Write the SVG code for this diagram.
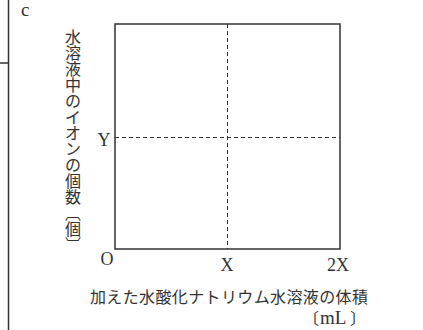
<svg xmlns="http://www.w3.org/2000/svg" width="423" height="330" viewBox="0 0 423 330">
<style>
.ln{stroke:#333;stroke-width:1.5;fill:none}
.ds{stroke:#333;stroke-width:1;stroke-dasharray:4,3;fill:none}
.lat{font-family:"Liberation Serif",serif;font-size:18px;fill:#333}
.jp{font-family:"Noto Sans CJK JP",sans-serif;font-size:16px;fill:#333}
.v{font-family:"Noto Sans CJK JP",sans-serif;font-size:16px;fill:#333;text-anchor:middle}
</style>
<g id="frame">
<line class="ln" x1="8.5" y1="0" x2="8.5" y2="330"/>
<line class="ln" x1="0" y1="63" x2="8.5" y2="63"/>
<text class="lat" x="21" y="16" style="font-size:19px">c</text>
</g>
<g id="plot">
<rect class="ln" x="115" y="24" width="225" height="225"/>
</g>
<g id="connectors">
<line class="ds" x1="227.5" y1="24" x2="227.5" y2="249"/>
<line class="ds" x1="115" y1="137.5" x2="340" y2="137.5"/>
</g>
<g id="labels">
<text class="lat" x="104" y="146" text-anchor="middle">Y</text>
<text class="lat" x="107" y="265" text-anchor="middle">O</text>
<text class="lat" x="227" y="271" text-anchor="middle">X</text>
<text class="lat" x="338" y="271" text-anchor="middle">2X</text>
<text class="v" id="ylabel"><tspan x="73" y="43">水</tspan><tspan x="73" y="59">溶</tspan><tspan x="73" y="75">液</tspan><tspan x="73" y="91">中</tspan><tspan x="73" y="107">の</tspan><tspan x="73" y="123">イ</tspan><tspan x="73" y="139">オ</tspan><tspan x="73" y="155">ン</tspan><tspan x="73" y="171">の</tspan><tspan x="73" y="187">個</tspan><tspan x="73" y="203">数</tspan><tspan x="73" y="219">︹</tspan><tspan x="73" y="235">個</tspan><tspan x="73" y="251">︺</tspan></text>
<text class="jp" x="90" y="303" textLength="278" lengthAdjust="spacing">加えた水酸化ナトリウム水溶液の体積</text>
<text class="jp" y="324"><tspan x="303">〔</tspan><tspan x="320" style="font-family:'Liberation Serif',serif;font-size:19px">mL</tspan><tspan x="350">〕</tspan></text>
</g>
</svg>
